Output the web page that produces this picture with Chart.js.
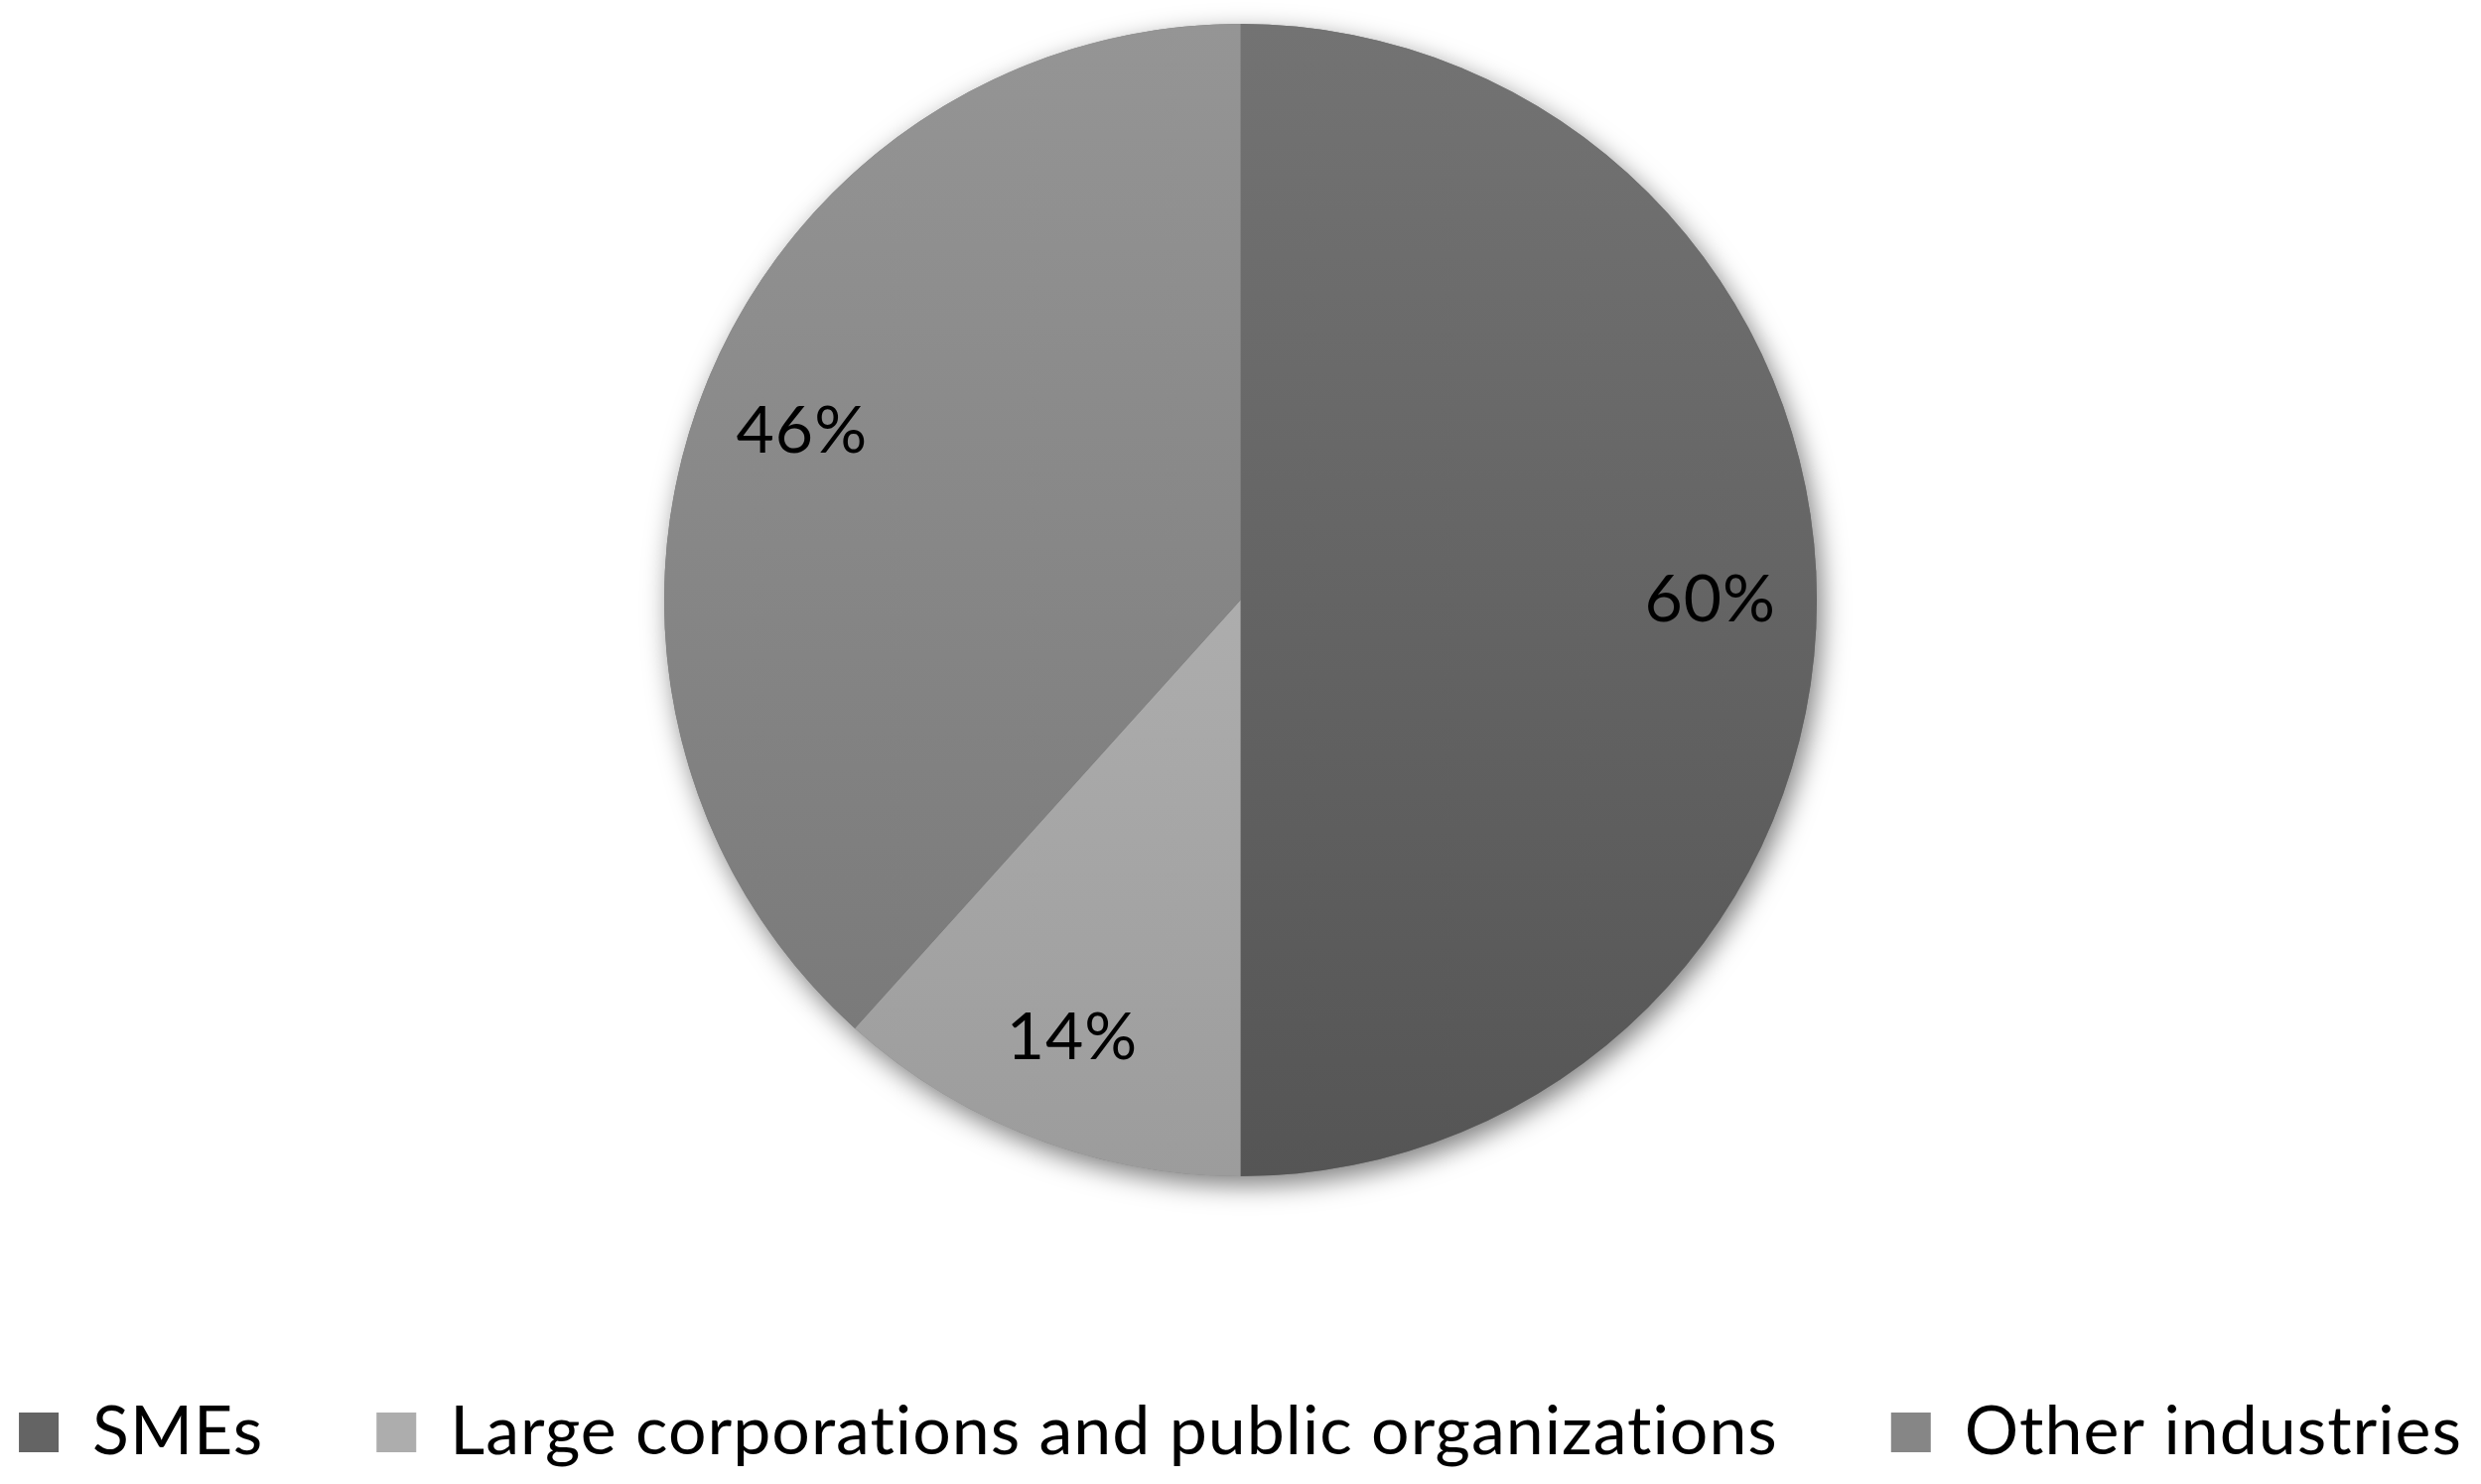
<!DOCTYPE html>
<html>
<head>
<meta charset="utf-8">
<script src="https://cdn.jsdelivr.net/npm/chart.js@4.4.0/dist/chart.umd.min.js"></script>
<style>
  html, body { margin: 0; padding: 0; background: #fff; }
  #wrap { width: 2499px; height: 1495px; }
</style>
</head>
<body>
<div id="wrap"><canvas id="grafico-sectores" width="2499" height="1495"></canvas></div>
<script>
// datos del grafico
const categories = ['SMEs', 'Large corporations and public organizations', 'Other industries'];
const shares = [60, 14, 46];
const valueLabels = ['60%', '14%', '46%'];

// colores (arriba / abajo del degradado)
const topColors = ['#737373', '#bebebe', '#959595'];
const bottomColors = ['#555555', '#9c9c9c', '#767676'];
const legendColors = ['#646464', '#adadad', '#868686'];

const FONT = 'Lato, "Open Sans", "Liberation Sans", sans-serif';
// espacio extra detras de cada entrada de la leyenda
const legendGap = '\u2003\u2002\u2009\u2009';

const fillSlice = (context) => {
    const i = context.dataIndex;
    const area = context.chart.chartArea;
    if (!area) {
        return legendColors[i];
    }
    const g = context.chart.ctx.createLinearGradient(0, area.top, 0, area.bottom);
    g.addColorStop(0, topColors[i]);
    g.addColorStop(1, bottomColors[i]);
    return g;
};

// espaciado minimo de letras para evitar la ligadura "ti" de Lato
const noLigatures = {
    id: 'noLigatures',
    beforeUpdate(chart) {
        chart.ctx.letterSpacing = '1px';
    },
    beforeDraw(chart) {
        chart.ctx.letterSpacing = '1px';
    }
};

// sombra suave debajo del circulo
const pieShadow = {
    id: 'pieShadow',
    beforeDatasetsDraw(chart) {
        const arc = chart.getDatasetMeta(0).data[0];
        if (!arc) return;
        const { x, y, outerRadius } = arc.getProps(['x', 'y', 'outerRadius'], true);
        const ctx = chart.ctx;
        ctx.save();
        ctx.shadowColor = 'rgba(0, 0, 0, 0.5)';
        ctx.shadowBlur = 26;
        ctx.shadowOffsetX = 5;
        ctx.shadowOffsetY = 9;
        ctx.fillStyle = '#777';
        ctx.beginPath();
        ctx.arc(x, y, outerRadius, 0, Math.PI * 2);
        ctx.fill();
        ctx.restore();
    }
};

// etiquetas de porcentaje dentro de cada sector
const sliceLabels = {
    id: 'sliceLabels',
    afterDatasetsDraw(chart) {
        const ctx = chart.ctx;
        ctx.save();
        ctx.font = '66px ' + FONT;
        ctx.fillStyle = '#000';
        ctx.textAlign = 'center';
        ctx.textBaseline = 'middle';
        chart.getDatasetMeta(0).data.forEach((arc, i) => {
            const p = arc.getProps(['x', 'y', 'startAngle', 'endAngle', 'outerRadius'], true);
            const mid = (p.startAngle + p.endAngle) / 2;
            const r = p.outerRadius * 0.815;
            ctx.fillText(valueLabels[i], p.x + Math.cos(mid) * r, p.y + Math.sin(mid) * r);
        });
        ctx.restore();
    }
};

const ctx = document.getElementById('grafico-sectores').getContext('2d');
new Chart(ctx, {
    type: 'pie',
    data: {
        labels: categories,
        datasets: [
            {
                data: shares,
                backgroundColor: fillSlice,
                borderWidth: 0,
            },
        ],
    },
    options: {
        responsive: false,
        animation: false,
        devicePixelRatio: 1,
        layout: { padding: { top: 24, bottom: 8 } },
        plugins: {
            tooltip: { enabled: false },
            legend: {
                position: 'bottom',
                title: { display: true, text: ' ', font: { size: 10 }, padding: { top: 204, bottom: 0 } },
                labels: {
                    boxWidth: 40,
                    boxHeight: 40,
                    padding: 8,
                    color: '#000',
                    font: { family: FONT, size: 68 },
                    generateLabels: (chart) => categories.map((c, i) => ({
                        text: i < categories.length - 1 ? c + legendGap : c,
                        fillStyle: legendColors[i],
                        strokeStyle: legendColors[i],
                        fontColor: '#000',
                        lineWidth: 0,
                        index: i,
                    })),
                },
            },
        },
    },
    plugins: [noLigatures, pieShadow, sliceLabels],
});
</script>
</body>
</html>
